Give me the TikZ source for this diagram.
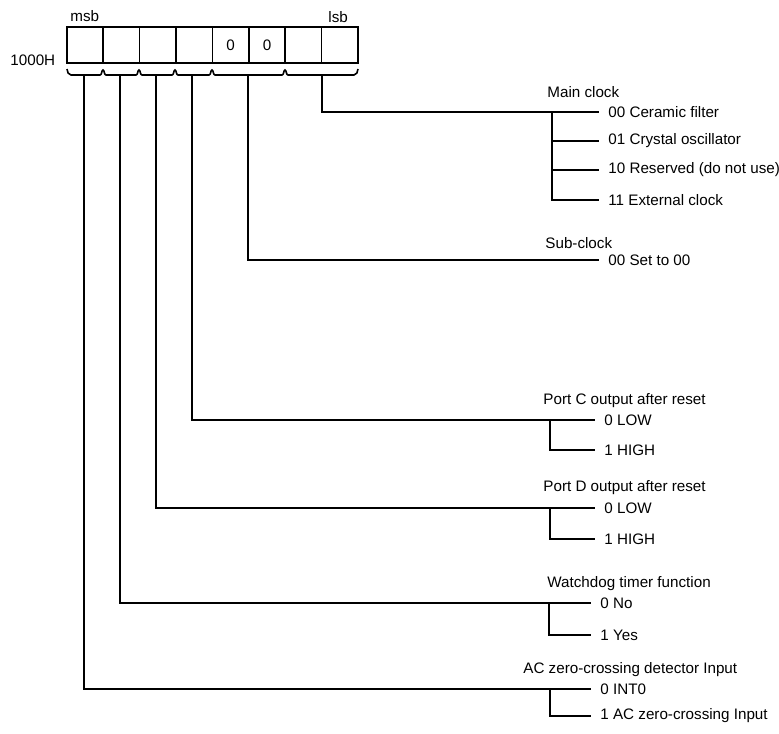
\documentclass[tikz,border=0pt]{standalone}
\usepackage{fontspec}
\setmainfont{Liberation Sans}
\usepackage{tikz}

\tikzset{
  bitbox/.style={draw, line width=0.8pt, minimum width=18.2pt, minimum height=18pt, inner sep=0pt},
  option/.style={anchor=west, inner xsep=4.5pt, inner ysep=0pt},
  heading/.style={anchor=west, inner sep=0pt},
  wire/.style={line width=0.8pt}
}

\begin{document}
\begin{tikzpicture}[x=0.5pt, y=-0.5pt, font=\fontsize{7.6}{9}\selectfont]
  \useasboundingbox (0,0) rectangle (779,733);
  % register 1000H
  \foreach \v [count=\i from 0] in {{},{},{},{},0,0,{},{}}
    \node[bitbox] (b\i) at (85+\i*36.4, 45) {\v};
  \node[heading] (msb) at (70,16) {msb};
  \node[heading] (lsb) at (328,17) {lsb};
  \node[heading] (addr) at (10,60) {1000H};
  % brace under the bits
  \draw[wire] (67,69) to[out=-80,in=180] (71,75)
    \foreach \x in {103,139,175,212,285} {
      -- (\x-3,75) .. controls (\x-1,75) and (\x-1.5,70) .. (\x,70)
      .. controls (\x+1.5,70) and (\x+1,75) .. (\x+3,75)}
    -- (354,75) to[out=0,in=-100] (358,69);
  \coordinate (tac) at (84,75);
  \coordinate (twd) at (120,75);
  \coordinate (tpd) at (156,75);
  \coordinate (tpc) at (192,75);
  \coordinate (tsc) at (248,75);
  \coordinate (tmc) at (322,75);

  % main clock
  \node[heading] (mch) at (547,92) {Main clock};
  \node[option] (mc0) at (599,112) {00 Ceramic filter};
  \node[option] (mc1) at (599,141) {01 Crystal oscillator};
  \node[option] (mc2) at (599,170) {10 Reserved (do not use)};
  \node[option] (mc3) at (599,200) {11 External clock};
  \coordinate (mcb) at (552,112);
  \draw[wire] (tmc) |- (mc0.west);
  \draw[wire] (mcb) |- (mc3.west);
  \foreach \k in {1,2}
    \draw[wire] (mcb |- mc\k.west) -- (mc\k.west);

  % sub-clock
  \node[heading] (sch) at (545,243) {Sub-clock};
  \node[option] (sc0) at (599,260) {00 Set to 00};
  \draw[wire] (tsc) |- (sc0.west);

  % port C
  \node[heading] (pch) at (543,401) {Port C output after reset};
  \node[option] (pc0) at (595,420) {0 LOW};
  \node[option] (pc1) at (595,450) {1 HIGH};
  \coordinate (pcb) at (550,420);
  \draw[wire] (tpc) |- (pc0.west);
  \draw[wire] (pcb) |- (pc1.west);

  % port D
  \node[heading] (pdh) at (543,488) {Port D output after reset};
  \node[option] (pd0) at (595,508) {0 LOW};
  \node[option] (pd1) at (595,539) {1 HIGH};
  \coordinate (pdb) at (550,508);
  \draw[wire] (tpd) |- (pd0.west);
  \draw[wire] (pdb) |- (pd1.west);

  % watchdog
  \node[heading] (wdh) at (547,584) {Watchdog timer function};
  \node[option] (wd0) at (591,603) {0 No};
  \node[option] (wd1) at (591,635) {1 Yes};
  \coordinate (wdb) at (549,603);
  \draw[wire] (twd) |- (wd0.west);
  \draw[wire] (wdb) |- (wd1.west);

  % AC zero-crossing
  \node[heading] (ach) at (523,670) {AC zero-crossing detector Input};
  \node[option] (ac0) at (591,689) {0 INT0};
  \node[option] (ac1) at (591,716) {1 AC zero-crossing Input};
  \coordinate (acb) at (550,689);
  \draw[wire] (tac) |- (ac0.west);
  \draw[wire] (acb) |- (ac1.west);
\end{tikzpicture}
\end{document}
